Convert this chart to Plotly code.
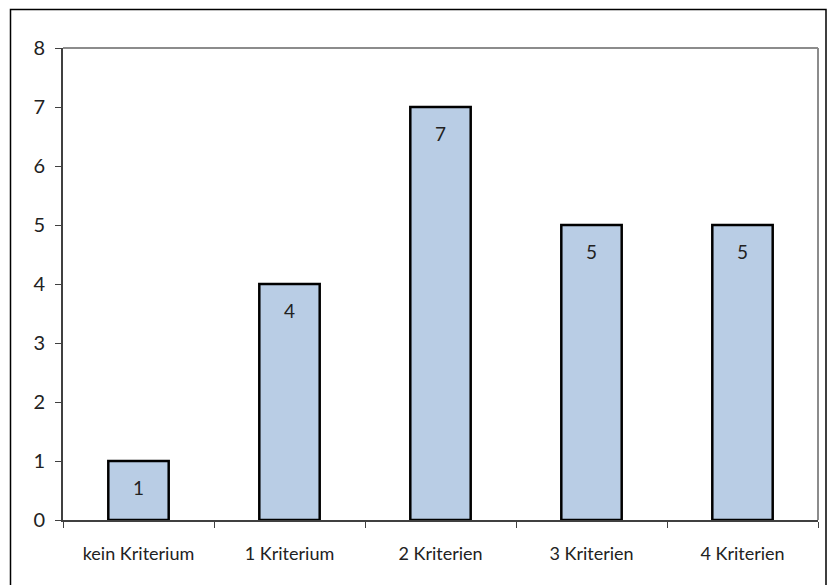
import plotly.graph_objects as go

categories = ["kein Kriterium", "1 Kriterium", "2 Kriterien", "3 Kriterien", "4 Kriterien"]
counts = [1, 4, 7, 5, 5]
y_ticks = [0, 1, 2, 3, 4, 5, 6, 7, 8]

W, H = 827, 585
ml, mr, mt, mb = 63, 9, 48, 65
pw, ph = W - ml - mr, H - mt - mb

FONT = "Lato"

fig = go.Figure(
    go.Bar(
        x=categories,
        y=counts,
        width=0.4,
        marker=dict(color="#B9CDE5", line=dict(color="#000000", width=2.5)),
        hoverinfo="skip",
    )
)

# value labels just below the top of each bar
for c, v in zip(categories, counts):
    fig.add_annotation(
        x=c, y=v, text=str(v), showarrow=False,
        yanchor="middle", yshift=-26,
        font=dict(family=FONT, size=19, color="#222222"),
    )

def px_x(p):
    return (p - ml) / pw

def px_y(p):
    return 1 - (p - mt) / ph

# grey frame on top and right of the plot area
fig.add_shape(type="line", xref="paper", yref="paper",
              x0=0, x1=1, y0=1, y1=1, line=dict(color="#8C8C8C", width=2))
fig.add_shape(type="line", xref="paper", yref="paper",
              x0=1, x1=1, y0=0, y1=1, line=dict(color="#8C8C8C", width=2))

# outer chart border
fig.add_shape(type="rect", xref="paper", yref="paper",
              x0=px_x(10.5), x1=px_x(826), y0=px_y(600), y1=px_y(9.5),
              line=dict(color="#000000", width=1.5), layer="below")

fig.update_layout(
    width=W, height=H,
    margin=dict(l=ml, r=mr, t=mt, b=mb),
    paper_bgcolor="white",
    plot_bgcolor="white",
    showlegend=False,
    font=dict(family=FONT, size=18, color="#222222"),
    bargap=0.6,
)
fig.update_xaxes(
    showline=True, linecolor="#404040", linewidth=2,
    ticks="outside", tickson="boundaries", ticklen=6, tickcolor="#404040", tickwidth=1,
    tickfont=dict(family=FONT, size=18, color="#222222"),
    ticklabelstandoff=16,
    showgrid=False, zeroline=False, fixedrange=True,
)
fig.update_yaxes(
    range=[0, 8], tickvals=y_ticks,
    showline=True, linecolor="#404040", linewidth=2,
    ticks="outside", ticklen=6, tickcolor="#404040", tickwidth=1,
    tickfont=dict(family=FONT, size=20, color="#222222"),
    ticklabelstandoff=6,
    showgrid=False, zeroline=False, fixedrange=True,
)

fig.write_html("out.html", config={"displayModeBar": False})
